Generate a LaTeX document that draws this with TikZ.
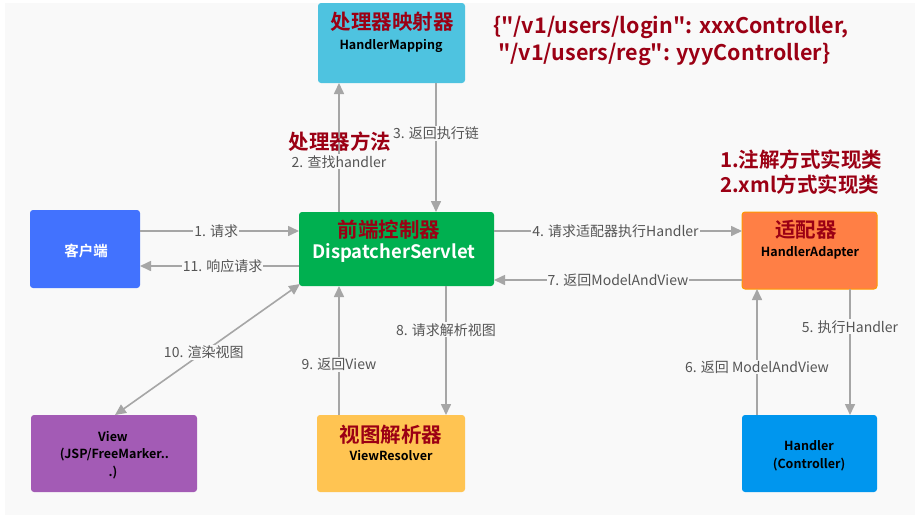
\documentclass[tikz,border=0pt]{standalone}
\usepackage{fontspec}
\setmainfont{Noto Sans CJK SC}
\newfontfamily\cjk{Noto Sans CJK SC}
\newfontfamily\cjkb{Noto Sans CJK SC Bold}
\usetikzlibrary{arrows.meta}
\definecolor{bgc}{RGB}{249,249,249}
\definecolor{redt}{RGB}{155,0,20}
\definecolor{arrc}{RGB}{166,166,166}
\definecolor{labc}{RGB}{85,85,85}
\definecolor{hmc}{RGB}{78,195,224}
\definecolor{clc}{RGB}{66,114,254}
\definecolor{dsc}{RGB}{0,176,80}
\definecolor{hac}{RGB}{255,127,69}
\definecolor{hab}{RGB}{255,153,0}
\definecolor{hdc}{RGB}{0,150,238}
\definecolor{vrc}{RGB}{255,196,82}
\definecolor{vwc}{RGB}{163,91,181}
\tikzset{
  box/.style={draw=none, rounded corners=3pt, anchor=north west, inner sep=0pt, outer sep=0pt},
  arr/.style={draw=arrc, line width=1.6pt, -{Triangle[width=10pt,length=11pt]}},
  darr/.style={draw=arrc, line width=1.6pt, {Triangle[width=10pt,length=11pt]}-{Triangle[width=10pt,length=11pt]}},
  lab/.style={fill=bgc, inner sep=1pt, text=labc, font=\cjk\fontsize{14}{16}\selectfont},
  ttl/.style={text=redt, font=\cjkb\fontsize{20.5}{22}\selectfont, inner sep=0pt},
  sub/.style={text=black, font=\cjkb\fontsize{12.5}{15}\selectfont, inner sep=0pt},
  note/.style={text=redt, font=\cjkb\fontsize{21.5}{27}\selectfont, inner sep=0pt, align=left},
}
\begin{document}
\begin{tikzpicture}[x=1pt,y=-1pt]
\useasboundingbox (0,0) rectangle (918,517);
\fill[white] (0,0) rectangle (918,517);
\fill[bgc] (5,3) rectangle (915,515);
% boxes
\node[box, fill=hmc, minimum width=147pt, minimum height=80pt] (hm) at (318,3) {};
\node[box, fill=clc, minimum width=110pt, minimum height=78pt] (cl) at (30,210) {};
\node[box, fill=dsc, minimum width=195pt, minimum height=74pt] (ds) at (299,212) {};
\node[box, fill=hac, draw=hab, line width=1pt, minimum width=135pt, minimum height=77pt] (ha) at (742,212) {};
\node[box, fill=hdc, minimum width=135pt, minimum height=77pt] (hd) at (742,415) {};
\node[box, fill=vrc, minimum width=148pt, minimum height=77pt] (vr) at (317,415) {};
\node[box, fill=vwc, minimum width=166pt, minimum height=77pt] (vw) at (31,415) {};
% box texts
\node[ttl] (hmt) at (392,22) {处理器映射器};
\node[sub] (hms) at (391,46) {HandlerMapping};
\node[text=white, font=\cjkb\fontsize{14.5}{16}\selectfont, inner sep=0pt] (clt) at (86,251) {客户端};
\node[ttl] (dst) at (389,230) {前端控制器};
\node[text=white, font=\cjkb\fontsize{18.5}{22}\selectfont, inner sep=0pt] (dss) at (394,253) {DispatcherServlet};
\node[ttl] (hat) at (806,230) {适配器};
\node[sub] (has) at (810,253) {HandlerAdapter};
\node[ttl] (vrt) at (391,435) {视图解析器};
\node[sub] (vrs) at (391,456) {ViewResolver};
\node[sub, align=center, font=\cjkb\fontsize{12.5}{17.5}\selectfont] (vwt) at (113,455) {View\\\ (JSP/FreeMarker..\\.)};
\node[sub, align=center, font=\cjkb\fontsize{12.5}{17.5}\selectfont] (hdt) at (809,456) {Handler\\(Controller)};
% arrows
\draw[arr] ([yshift=-21pt]cl.north east) -- node[lab, pos=0.48] {1. 请求} ([yshift=-19pt]ds.north west);
\draw[arr] ([yshift=-54pt]ds.north west) -- node[lab, pos=0.48] {11. 响应请求} ([yshift=-56pt]cl.north east);
\draw[arr] ([xshift=40pt]ds.north west) -- node[lab, pos=0.39] {2. 查找handler} ([xshift=21pt]hm.south west);
\draw[arr] ([xshift=118pt]hm.south west) -- node[lab, pos=0.39] {3. 返回执行链} ([xshift=137pt]ds.north west);
\draw[arr] ([yshift=-19pt]ds.north east) -- node[lab, pos=0.49] {4. 请求适配器执行Handler} ([yshift=-19pt]ha.north west);
\draw[arr] ([yshift=-68pt]ha.north west) -- node[lab, pos=0.5] {7. 返回ModelAndView} ([yshift=-68pt]ds.north east);
\draw[arr] ([xshift=108pt]ha.south west) -- node[lab, pos=0.3] {5. 执行Handler} ([xshift=108pt]hd.north west);
\draw[arr] ([xshift=15pt]hd.north west) -- node[lab, pos=0.38] {6. 返回 ModelAndView} ([xshift=15pt]ha.south west);
\draw[arr] ([xshift=147pt]ds.south west) -- node[lab, pos=0.34] {8. 请求解析视图} ([xshift=129pt]vr.north west);
\draw[arr] ([xshift=22pt]vr.north west) -- node[lab, pos=0.39] {9. 返回View} ([xshift=40pt]ds.south west);
\draw[darr] ([xshift=1pt,yshift=2pt]ds.south west) -- node[lab, pos=0.52] {10. 渲染视图} ([xshift=84pt]vw.north west);
% notes
\node[text=redt, font=\cjkb\fontsize{20.5}{22}\selectfont, inner sep=0pt] (n1) at (340,142) {处理器方法};
\node[note, anchor=north west] (n2) at (493,16) {\{"/v1/users/login": xxxController,\\\ "/v1/users/reg": yyyController\}};
\node[note, anchor=north west, font=\cjkb\fontsize{20.5}{25}\selectfont] (n3) at (720,150) {1.注解方式实现类\\2.xml方式实现类};
\end{tikzpicture}
\end{document}
